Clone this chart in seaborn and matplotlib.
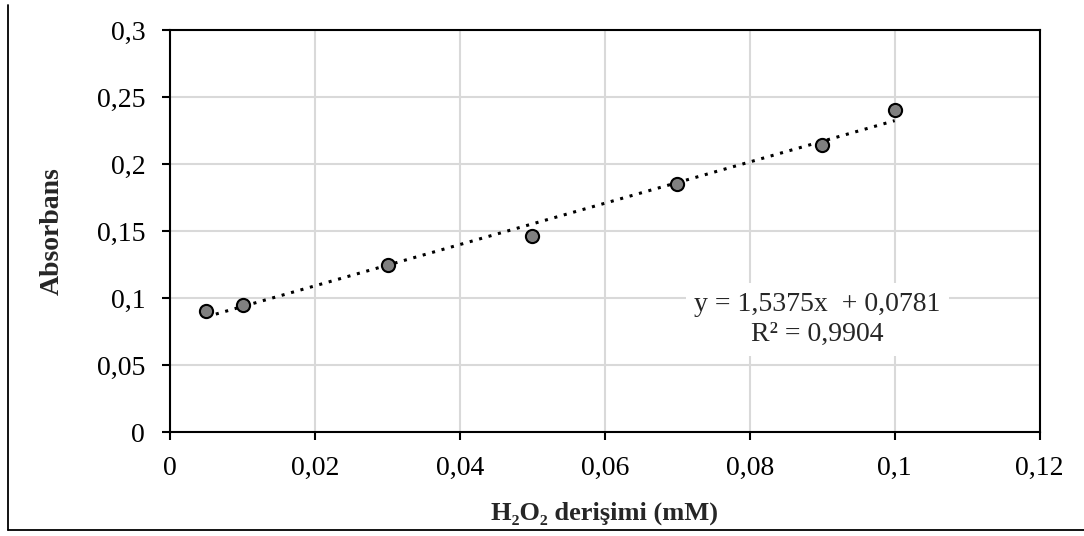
import numpy as np
import pandas as pd
import matplotlib
matplotlib.use("Agg")
import matplotlib.pyplot as plt
import matplotlib.ticker as mticker
from matplotlib.lines import Line2D
import seaborn as sns

#Data
concentration = [0.005, 0.01, 0.03, 0.05, 0.07, 0.09, 0.1]
absorbance = [0.090, 0.095, 0.125, 0.146, 0.185, 0.214, 0.240]
x_ticks = [0, 0.02, 0.04, 0.06, 0.08, 0.1, 0.12]
y_ticks = [0, 0.05, 0.1, 0.15, 0.2, 0.25, 0.3]
equation_text = "y = 1,5375x  + 0,0781\nR² = 0,9904"

df = pd.DataFrame({"conc": concentration, "abs": absorbance})

#Style
sns.set_theme(style="whitegrid")
plt.rcParams["font.family"] = ["Liberation Serif", "DejaVu Serif"]

fig = plt.figure(figsize=(10.84, 5.36), dpi=100)
ax = fig.add_axes([0.157, 0.194, 0.802, 0.750])

#Scatter with dotted linear trendline
sns.regplot(data=df, x="conc", y="abs", ax=ax, ci=None,
            scatter_kws={"s": 90, "color": "#808080", "edgecolor": "black",
                         "linewidths": 1.5, "alpha": 1, "zorder": 3},
            line_kws={"color": "black", "linestyle": (0, (1, 2.2)), "linewidth": 2.2, "zorder": 2})

#Axes limits and ticks
ax.set_xlim(0, 0.12)
ax.set_ylim(0, 0.3)
ax.set_xticks(x_ticks)
ax.set_yticks(y_ticks)
comma_fmt = mticker.FuncFormatter(lambda v, p: f"{v:g}".replace(".", ","))
ax.xaxis.set_major_formatter(comma_fmt)
ax.yaxis.set_major_formatter(comma_fmt)
ax.tick_params(axis="both", labelsize=20, colors="black", length=6, width=1.5,
               direction="out", left=True, bottom=True)
ax.tick_params(axis="y", pad=12)
ax.tick_params(axis="x", pad=11)

#Grid and frame
ax.grid(True, color="#d9d9d9", linewidth=1.5)
for side in ax.spines.values():
    side.set_color("black")
    side.set_linewidth(1.5)

#Labels
ax.set_xlabel("H₂O₂ derişimi (mM)", fontsize=19, fontweight="bold", labelpad=15)
ax.set_ylabel("Absorbans", fontsize=20, fontweight="bold", labelpad=23)

#Trendline equation
ax.text(0.0893, 0.0840, equation_text, fontsize=20, ha="center", va="center",
        linespacing=1.3, zorder=4,
        bbox=dict(facecolor="white", edgecolor="none", pad=6))

#Outer border lines (left and bottom)
fig.add_artist(Line2D([0.0075, 0.0075], [0.011, 0.99], color="black", linewidth=1.3))
fig.add_artist(Line2D([0.0075, 1.0], [0.011, 0.011], color="black", linewidth=1.3))

fig.savefig("out.png", dpi=100, facecolor="white")
